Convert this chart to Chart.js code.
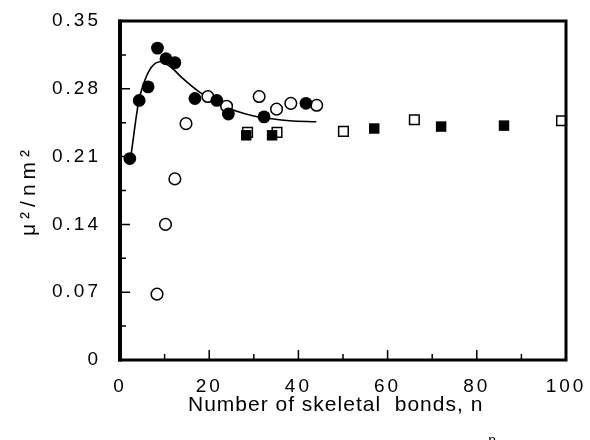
<!DOCTYPE html>
<html>
<head>
<meta charset="utf-8">
<script src="https://cdn.jsdelivr.net/npm/chart.js@4.4.1/dist/chart.umd.min.js"></script>
<style>
  html, body { margin: 0; padding: 0; background: #fff; }
  #wrap { width: 590px; height: 440px; }
</style>
</head>
<body>
<div id="wrap"><canvas id="dipoleChart"></canvas></div>
<script>
// filled circles
const filledCircleN = [2.2, 4.3, 6.3, 8.4, 10.3, 12.3, 16.8, 21.7, 24.3, 32.3, 41.7];
const filledCircleMu = [0.208, 0.268, 0.282, 0.322, 0.311, 0.307, 0.270, 0.268, 0.254, 0.251, 0.265];

// open circles
const openCircleN = [8.3, 10.2, 12.3, 14.8, 19.7, 23.9, 31.2, 35.1, 38.3, 44.1];
const openCircleMu = [0.068, 0.140, 0.187, 0.244, 0.272, 0.262, 0.272, 0.259, 0.265, 0.263];

// filled squares
const filledSquareN = [28.3, 34.1, 57.0, 72.0, 86.1];
const filledSquareMu = [0.232, 0.232, 0.239, 0.241, 0.242];

// open squares
const openSquareN = [28.6, 35.2, 50.1, 66.0, 99.0];
const openSquareMu = [0.235, 0.235, 0.236, 0.248, 0.247];

// fitted curve
const curveN = [2.4, 4.2, 5.6, 7.0, 9.0, 11.5, 14.0, 18.0, 22.0, 26.0, 30.0, 34.0, 38.0, 44.0];
const curveMu = [0.209, 0.267, 0.289, 0.302, 0.308, 0.302, 0.291, 0.276, 0.265, 0.257, 0.252, 0.249, 0.247, 0.246];

// axes
const xTicks = [0, 20, 40, 60, 80, 100];
const xMinorTicks = [10, 30, 50, 70, 90];
const yTicks = [0, 0.07, 0.14, 0.21, 0.28, 0.35];
const yTickLabels = ["0", "0.07", "0.14", "0.21", "0.28", "0.35"];
const yMinorTicks = [0.035, 0.105, 0.175, 0.245, 0.315];

const xTitle = "Number of skeletal  bonds, n";
const xTitleSub = "n";
const yTitle = "\u03bc\u00b2/nm\u00b2";

const FONT = "'Liberation Sans', Arial, Helvetica, sans-serif";

const toPoints = (xs, ys) => xs.map((x, i) => ({ x: x, y: ys[i] }));

const noScalePadding = (scale) => {
  scale.paddingTop = 0;
  scale.paddingBottom = 0;
  scale.paddingLeft = 0;
  scale.paddingRight = 0;
};

const frameAndTicks = {
  id: "frameAndTicks",
  beforeDraw(chart) {
    chart.ctx.letterSpacing = "3px";
  },
  afterDraw(chart) {
    const { ctx, chartArea: a, scales } = chart;
    const x = scales.x;
    const y = scales.y;
    ctx.save();
    ctx.letterSpacing = "0px";
    ctx.strokeStyle = "#000";
    ctx.lineWidth = 1.5;
    ctx.beginPath();
    yTicks.slice(1, -1).forEach((v) => {
      const py = y.getPixelForValue(v);
      ctx.moveTo(a.left, py);
      ctx.lineTo(a.left + 10, py);
    });
    yMinorTicks.forEach((v) => {
      const py = y.getPixelForValue(v);
      ctx.moveTo(a.left, py);
      ctx.lineTo(a.left + 6, py);
    });
    xTicks.slice(1, -1).forEach((v) => {
      const px = x.getPixelForValue(v);
      ctx.moveTo(px, a.bottom);
      ctx.lineTo(px, a.bottom - 10);
    });
    xMinorTicks.forEach((v) => {
      const px = x.getPixelForValue(v);
      ctx.moveTo(px, a.bottom);
      ctx.lineTo(px, a.bottom - 6);
    });
    ctx.stroke();

    ctx.lineWidth = 3;
    ctx.strokeRect(a.left, a.top, a.right - a.left, a.bottom - a.top);
    ctx.lineWidth = 4;
    ctx.beginPath();
    ctx.moveTo(a.left, a.top - 1.5);
    ctx.lineTo(a.left, a.bottom + 1.5);
    ctx.stroke();

    // axis titles
    ctx.fillStyle = "#000";
    ctx.font = "21px " + FONT;
    ctx.letterSpacing = "1px";
    ctx.textAlign = "left";
    ctx.textBaseline = "alphabetic";
    ctx.fillText(xTitle, 188, 411);
    const w = ctx.measureText(xTitle).width;
    ctx.font = "14px " + FONT;
    ctx.fillText(xTitleSub, 188 + w + 5, 445);

    ctx.translate(29, (a.top + a.bottom) / 2);
    ctx.rotate(-Math.PI / 2);
    ctx.font = "21px " + FONT;
    ctx.letterSpacing = "5px";
    ctx.textAlign = "center";
    ctx.textBaseline = "middle";
    ctx.fillText(yTitle, 0, 0);
    ctx.restore();
  },
};

Chart.defaults.font.family = FONT;
Chart.defaults.color = "#000";

new Chart(document.getElementById("dipoleChart"), {
  type: "scatter",
  data: {
    datasets: [
      {
        label: "curve",
        data: toPoints(curveN, curveMu),
        showLine: true,
        cubicInterpolationMode: "monotone",
        borderColor: "#000",
        borderWidth: 1.6,
        pointRadius: 0,
        order: 5,
      },
      {
        label: "open squares",
        data: toPoints(openSquareN, openSquareMu),
        pointStyle: "rect",
        pointRadius: 6.8,
        backgroundColor: "#fff",
        borderColor: "#000",
        borderWidth: 1.5,
        order: 4,
      },
      {
        label: "open circles",
        data: toPoints(openCircleN, openCircleMu),
        pointStyle: "circle",
        pointRadius: 5.8,
        backgroundColor: "#fff",
        borderColor: "#000",
        borderWidth: 1.5,
        order: 3,
      },
      {
        label: "filled squares",
        data: toPoints(filledSquareN, filledSquareMu),
        pointStyle: "rect",
        pointRadius: 7.4,
        backgroundColor: "#000",
        borderColor: "#000",
        borderWidth: 0,
        order: 2,
      },
      {
        label: "filled circles",
        data: toPoints(filledCircleN, filledCircleMu),
        pointStyle: "circle",
        pointRadius: 6.4,
        backgroundColor: "#000",
        borderColor: "#000",
        borderWidth: 0,
        order: 1,
      },
    ],
  },
  options: {
    responsive: true,
    maintainAspectRatio: false,
    animation: false,
    events: [],
    clip: false,
    layout: {
      padding: { top: 21, right: 24, left: 0, bottom: 0 },
    },
    plugins: {
      legend: { display: false },
      tooltip: { enabled: false },
    },
    scales: {
      x: {
        type: "linear",
        min: 0,
        max: 100,
        afterFit: (scale) => {
          scale.height = 80;
          noScalePadding(scale);
        },
        afterBuildTicks: (scale) => {
          scale.ticks = xTicks.map((v) => ({ value: v }));
        },
        grid: { display: false, drawTicks: false },
        border: { display: false },
        ticks: {
          padding: 15,
          maxRotation: 0,
          font: { size: 19 },
          color: "#000",
          callback: (value) => String(value),
        },
      },
      y: {
        type: "linear",
        min: 0,
        max: 0.35,
        afterFit: (scale) => {
          scale.width = 120;
          noScalePadding(scale);
        },
        afterBuildTicks: (scale) => {
          scale.ticks = yTicks.map((v) => ({ value: v }));
        },
        grid: { display: false, drawTicks: false },
        border: { display: false },
        ticks: {
          padding: 19,
          font: { size: 19 },
          color: "#000",
          callback: (value) => yTickLabels[yTicks.indexOf(value)],
        },
      },
    },
  },
  plugins: [frameAndTicks],
});
</script>
</body>
</html>
